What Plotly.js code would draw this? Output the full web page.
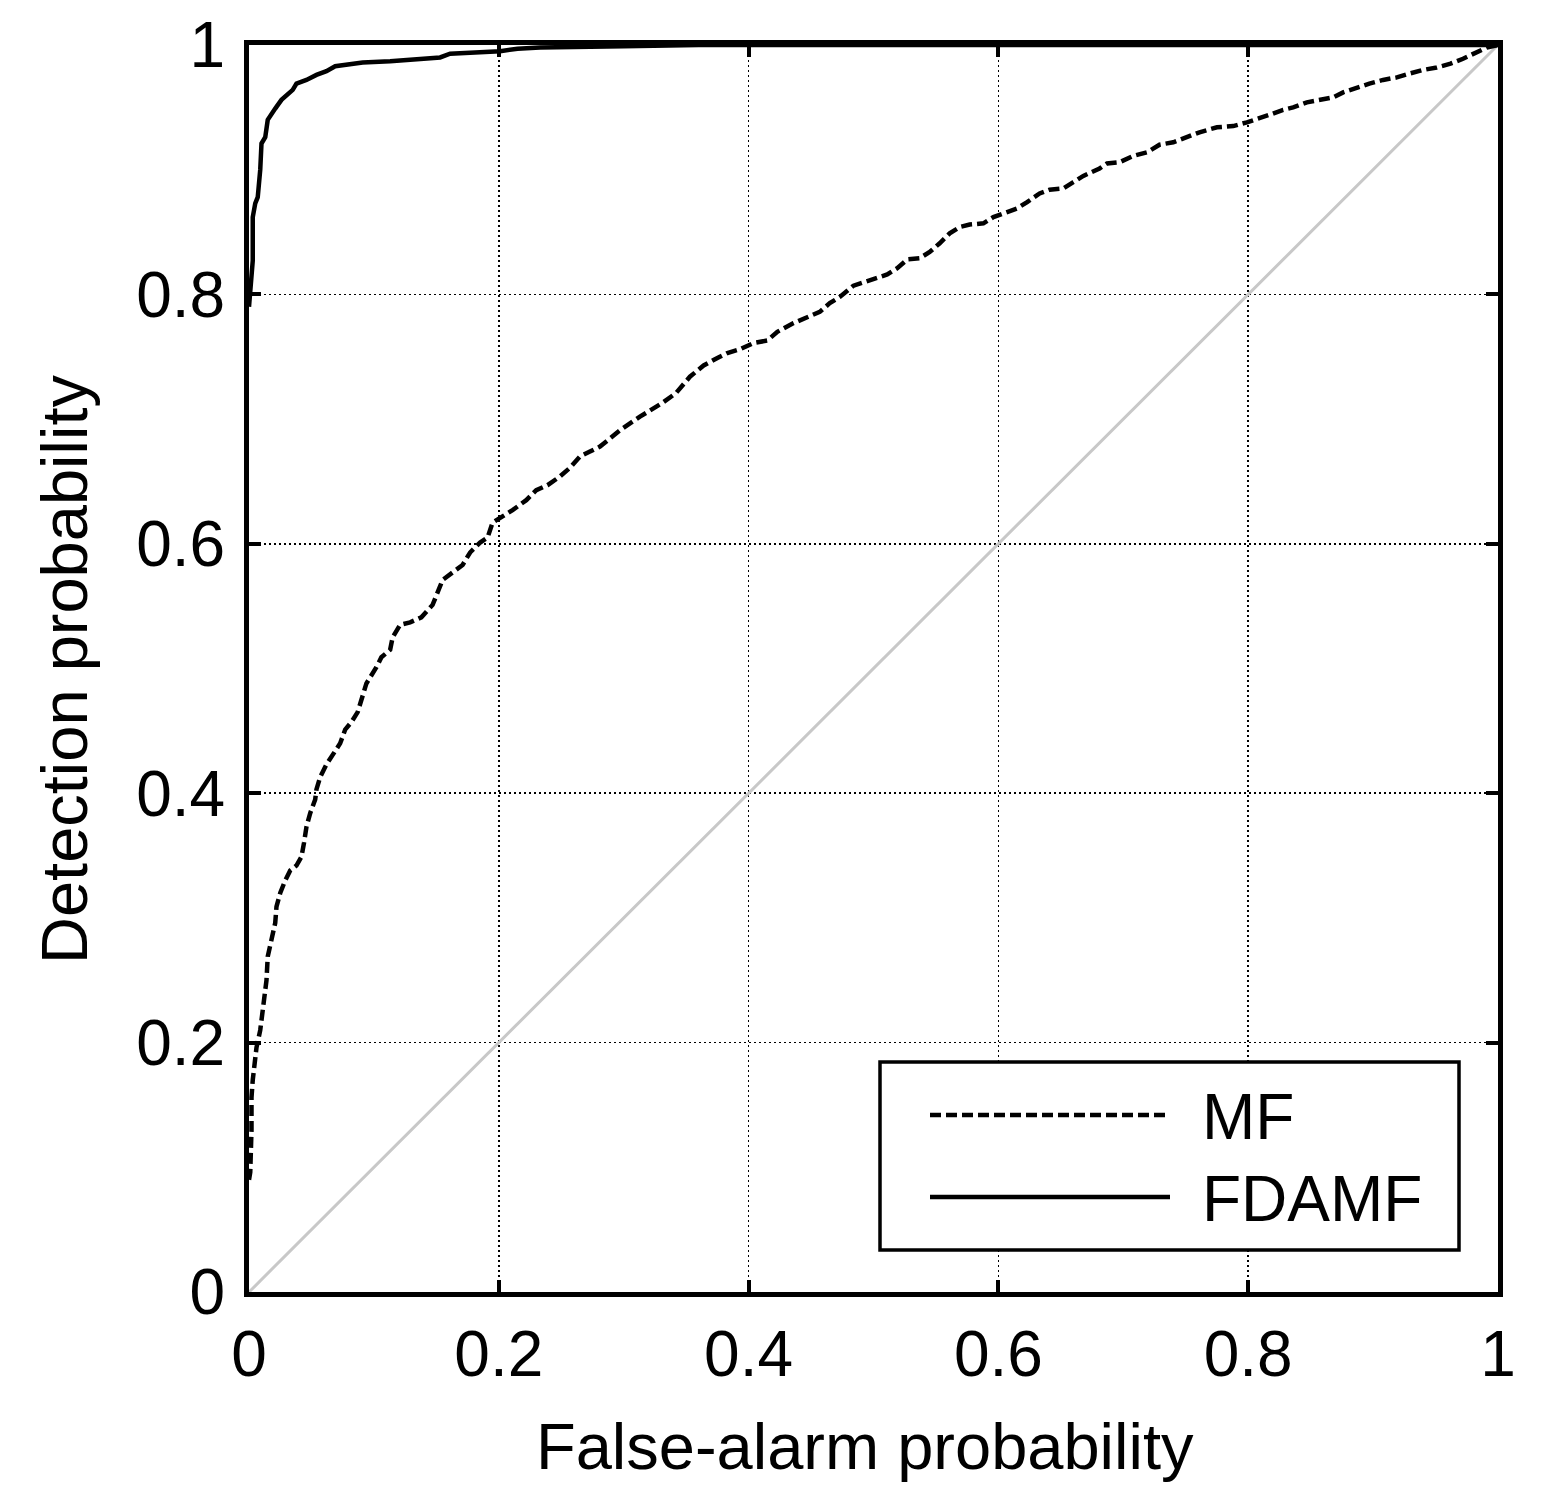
<!DOCTYPE html>
<html>
<head>
<meta charset="utf-8">
<script src="https://cdn.plot.ly/plotly-3.0.1.min.js"></script>
<style>html,body{margin:0;padding:0;background:#fff;}</style>
</head>
<body>
<div id="chart" style="width:1544px;height:1501px;"></div>
<script>
// MF ROC curve (false-alarm prob, detection prob)
var mfFA = [
  0, 0.001, 0.002, 0.002, 0.003, 0.005, 0.006, 0.009, 0.011, 0.013,
  0.014, 0.015, 0.018, 0.021, 0.022, 0.025, 0.029, 0.033, 0.038, 0.042,
  0.044, 0.046, 0.049, 0.053, 0.054, 0.057, 0.062, 0.067, 0.073, 0.077,
  0.082, 0.087, 0.090, 0.094, 0.102, 0.106, 0.113, 0.115, 0.121, 0.129,
  0.138, 0.147, 0.151, 0.155, 0.163, 0.171, 0.177, 0.185, 0.191, 0.195,
  0.203, 0.211, 0.222, 0.230, 0.239, 0.249, 0.257, 0.265, 0.273, 0.281,
  0.297, 0.313, 0.331, 0.342, 0.353, 0.364, 0.375, 0.383, 0.393, 0.404,
  0.415, 0.423, 0.436, 0.447, 0.457, 0.465, 0.473, 0.484, 0.495, 0.503,
  0.511, 0.519, 0.527, 0.537, 0.545, 0.553, 0.561, 0.569, 0.577, 0.588,
  0.596, 0.607, 0.615, 0.623, 0.633, 0.641, 0.652, 0.660, 0.668, 0.681,
  0.687, 0.697, 0.708, 0.719, 0.729, 0.740, 0.751, 0.761, 0.775, 0.788,
  0.799, 0.809, 0.817, 0.828, 0.836, 0.847, 0.857, 0.868, 0.876, 0.887,
  0.897, 0.908, 0.919, 0.929, 0.940, 0.951, 0.962, 0.972, 0.980, 0.991,
  1
];
var mfPD = [
  0.090, 0.096, 0.130, 0.156, 0.170, 0.184, 0.196, 0.210, 0.224, 0.237,
  0.250, 0.269, 0.282, 0.296, 0.309, 0.320, 0.330, 0.338, 0.342, 0.349,
  0.360, 0.373, 0.384, 0.395, 0.403, 0.413, 0.423, 0.431, 0.440, 0.451,
  0.457, 0.465, 0.475, 0.488, 0.501, 0.509, 0.515, 0.525, 0.535, 0.537,
  0.541, 0.551, 0.561, 0.571, 0.577, 0.583, 0.593, 0.601, 0.605, 0.617,
  0.622, 0.627, 0.635, 0.643, 0.647, 0.654, 0.661, 0.670, 0.674, 0.678,
  0.691, 0.702, 0.713, 0.721, 0.734, 0.743, 0.749, 0.753, 0.756, 0.761,
  0.763, 0.770, 0.777, 0.782, 0.786, 0.793, 0.798, 0.807, 0.811, 0.813,
  0.816, 0.821, 0.828, 0.829, 0.834, 0.841, 0.849, 0.854, 0.856, 0.857,
  0.862, 0.866, 0.869, 0.874, 0.881, 0.884, 0.885, 0.890, 0.895, 0.901,
  0.905, 0.906, 0.911, 0.914, 0.920, 0.922, 0.926, 0.930, 0.934, 0.935,
  0.938, 0.941, 0.944, 0.948, 0.950, 0.954, 0.956, 0.958, 0.962, 0.966,
  0.969, 0.972, 0.974, 0.977, 0.980, 0.982, 0.985, 0.989, 0.993, 0.998,
  1
];

// FDAMF ROC curve
var fdFA = [0, 0.002, 0.003, 0.003, 0.005, 0.007, 0.009, 0.010, 0.013, 0.015,
  0.018, 0.021, 0.026, 0.030, 0.035, 0.038, 0.046, 0.054, 0.062, 0.069,
  0.086, 0.091, 0.113, 0.134, 0.153, 0.161, 0.179, 0.201, 0.215, 0.233,
  0.300, 0.360, 1];
var fdPD = [0.790, 0.810, 0.827, 0.862, 0.873, 0.878, 0.900, 0.921, 0.926, 0.940,
  0.945, 0.949, 0.956, 0.960, 0.964, 0.969, 0.972, 0.976, 0.979, 0.983,
  0.985, 0.986, 0.987, 0.989, 0.990, 0.993, 0.994, 0.995, 0.997, 0.998,
  0.999, 1, 1];

// chance line
var chanceX = [0, 1];
var chanceY = [0, 1];

var seriesNames = ['MF', 'FDAMF'];
var tickVals = [0, 0.2, 0.4, 0.6, 0.8, 1];
var tickText = ['0', '0.2', '0.4', '0.6', '0.8', '1'];
var xTitle = 'False-alarm probability';
var yTitle = 'Detection probability';

var FONT = 'Liberation Sans, Arial, sans-serif';
var MF_DASH = '11px,5px';

var traces = [
  {x: chanceX, y: chanceY, mode: 'lines', line: {color: '#c8c8c8', width: 3}, showlegend: false, hoverinfo: 'skip'},
  {x: mfFA, y: mfPD, mode: 'lines', name: seriesNames[0], line: {color: '#000', width: 4.5, dash: MF_DASH}, showlegend: false},
  {x: fdFA, y: fdPD, mode: 'lines', name: seriesNames[1], line: {color: '#000', width: 4.5}, showlegend: false}
];

function px2x(p) { return (p - 249) / 1249; }
function px2y(p) { return (1292 - p) / 1247; }

var axisCommon = {
  range: [0, 1],
  tickvals: tickVals,
  ticktext: tickText,
  showline: true, linecolor: '#000', linewidth: 5, mirror: 'ticks',
  ticks: 'inside', ticklen: 12, tickwidth: 4, tickcolor: '#000',
  showgrid: true, gridcolor: '#000', gridwidth: 1.5, griddash: '2px,3px',
  zeroline: false,
  tickfont: {family: FONT, size: 64, color: '#000'},
  fixedrange: true
};

var layout = {
  width: 1544, height: 1501,
  margin: {l: 249, r: 46, t: 45, b: 209, pad: 0},
  paper_bgcolor: '#fff', plot_bgcolor: '#fff',
  font: {family: FONT, color: '#000'},
  showlegend: false,
  xaxis: Object.assign({}, axisCommon, {ticklabelstandoff: 2}),
  yaxis: Object.assign({}, axisCommon, {ticklabelstandoff: 6}),
  shapes: [
    {type: 'rect', xref: 'paper', yref: 'paper', x0: px2x(880), x1: px2x(1459), y0: px2y(1250), y1: px2y(1062),
     line: {color: '#000', width: 3.5}, fillcolor: '#fff', layer: 'above'},
    {type: 'line', xref: 'paper', yref: 'paper', x0: px2x(930), x1: px2x(1170), y0: px2y(1115), y1: px2y(1115),
     line: {color: '#000', width: 4.5, dash: MF_DASH}, layer: 'above'},
    {type: 'line', xref: 'paper', yref: 'paper', x0: px2x(930), x1: px2x(1170), y0: px2y(1197), y1: px2y(1197),
     line: {color: '#000', width: 4.5}, layer: 'above'}
  ],
  annotations: [
    {text: xTitle, xref: 'paper', yref: 'paper', x: px2x(865), y: px2y(1446), xanchor: 'center', yanchor: 'middle',
     showarrow: false, font: {family: FONT, size: 65, color: '#000'}},
    {text: yTitle, xref: 'paper', yref: 'paper', x: px2x(64), y: px2y(670), xanchor: 'center', yanchor: 'middle',
     textangle: -90, showarrow: false, font: {family: FONT, size: 65, color: '#000'}},
    {text: seriesNames[0], xref: 'paper', yref: 'paper', x: px2x(1200), y: px2y(1117), xanchor: 'left', yanchor: 'middle',
     showarrow: false, font: {family: FONT, size: 64, color: '#000'}},
    {text: seriesNames[1], xref: 'paper', yref: 'paper', x: px2x(1200), y: px2y(1199), xanchor: 'left', yanchor: 'middle',
     showarrow: false, font: {family: FONT, size: 64, color: '#000'}}
  ]
};

Plotly.newPlot('chart', traces, layout, {staticPlot: true, displayModeBar: false});
</script>
</body>
</html>
